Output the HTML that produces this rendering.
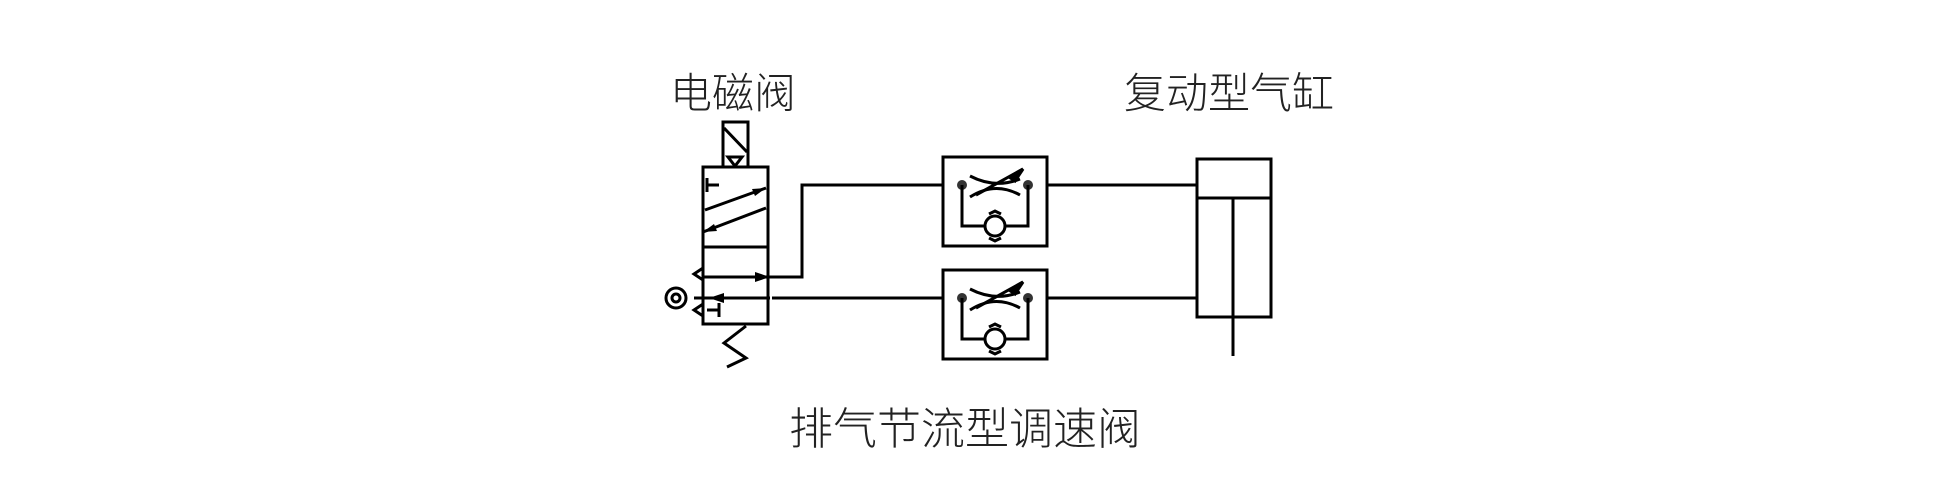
<!DOCTYPE html>
<html><head><meta charset="utf-8"><style>
html,body{margin:0;padding:0;background:#fff;}
svg{display:block}
text{font-family:"Liberation Sans","Noto Sans CJK SC",sans-serif;font-weight:300;fill:#222}
</style></head><body>
<svg width="1943" height="492" viewBox="0 0 1943 492" xmlns="http://www.w3.org/2000/svg">
<defs>
<g id="fv" stroke="#000" stroke-width="3" fill="none">
<rect x="0" y="0" width="104" height="89"/>
<path d="M27 19 Q52 32 77 22" />
<path d="M27 40 Q52 24 77 38" />
<path d="M33 38 L80 12" />
<path d="M66 20 L80 12 L72 24 Z" fill="#000"/>
<circle cx="19" cy="28" r="5" fill="#333" stroke="none"/>
<circle cx="85" cy="28" r="5" fill="#333" stroke="none"/>
<path d="M19 28 V69 H42 M62 69 H85 V28"/>
<circle cx="52" cy="69" r="10"/>
<path d="M46 57 L52 54 L58 57 M46 81 L52 84 L58 81" />
</g>
</defs>
<text x="670" y="108" font-size="42">电磁阀</text>
<text x="1124" y="108" font-size="42">复动型气缸</text>
<text x="789" y="444" font-size="44">排气节流型调速阀</text>
<g stroke="#000" stroke-width="3" fill="none">
<rect x="723" y="122" width="25" height="45"/>
<path d="M724 128 L747 152"/>
<path d="M728 157 L742 157 L735 166 Z"/>
<rect x="703" y="167" width="65" height="157"/>
<line x1="703" y1="247" x2="768" y2="247"/>
<path d="M707 185 H719 M707 178 V192"/>
<path d="M705 210 L766 188"/>
<path d="M703 232 L766 208"/>
<path d="M707 310 H719 M719 303 V317"/>
<path d="M703 277 H802 V185 H943"/>
<path d="M772 298 H943"/>
<path d="M694 298 H703 M703 298 H770"/>
<path d="M703 268 L694 274 L703 280"/>
<path d="M703 304 L694 310 L703 316"/>
<circle cx="676" cy="298" r="10"/>
<circle cx="676" cy="298" r="4"/>
<path d="M746 326 L724 343 L746 358 L727 367"/>
<path d="M1048 185 H1197 M1048 298 H1197"/>
<rect x="1197" y="159" width="74" height="158"/>
<line x1="1197" y1="198" x2="1271" y2="198"/>
<line x1="1233" y1="198" x2="1233" y2="356"/>
</g>
<g fill="#000">
<path d="M766 188 L752 189 L755 196 Z"/>
<path d="M703 232 L717 231 L714 224 Z"/>
<path d="M770 277 L755 272 L755 282 Z"/>
<path d="M709 298 L724 293 L724 303 Z"/>
</g>
<use href="#fv" x="943" y="157"/>
<use href="#fv" x="943" y="270"/>
</svg>
</body></html>
